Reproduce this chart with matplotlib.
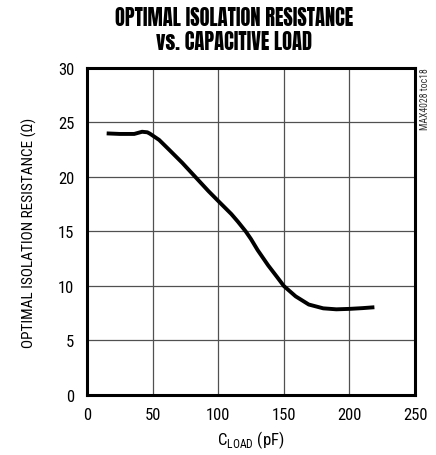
import matplotlib
matplotlib.use("Agg")
import matplotlib.pyplot as plt
from matplotlib import font_manager as fm

# values
cload_pf = [15, 25, 36, 42, 46, 48, 55, 62.6, 72.6, 82.6, 92.6, 100, 110,
            115, 121, 125, 130, 138, 145, 150, 159, 169, 180, 190, 200, 210, 219]
r_iso = [24.0, 23.95, 23.95, 24.15, 24.1, 23.97, 23.4, 22.5, 21.3, 20.0, 18.7,
         17.8, 16.6, 15.9, 15.0, 14.3, 13.3, 11.9, 10.8, 10.0, 9.05, 8.3, 7.95,
         7.86, 7.9, 7.97, 8.05]
x_ticks = [0, 50, 100, 150, 200, 250]
y_ticks = [0, 5, 10, 15, 20, 25, 30]


def pick(cands):
    have = {f.name for f in fm.fontManager.ttflist}
    for c in cands:
        if c in have:
            return c
    return "Liberation Sans"


BODY = pick(["Liberation Sans Narrow", "Roboto Condensed", "Archivo Narrow",
             "PT Sans Narrow", "Pragati Narrow", "Sofia Sans Condensed"])
TITLE = pick(["Anton", "Roboto Condensed", "Archivo Narrow"])

plt.rcParams["font.family"] = [BODY, "DejaVu Sans"]
plt.rcParams["mathtext.fontset"] = "custom"
plt.rcParams["mathtext.rm"] = BODY

fig = plt.figure(figsize=(4.36, 4.56), dpi=100)
ax = fig.add_axes([0.1995, 0.1316, 0.7525, 0.7171])

ax.plot(cload_pf, r_iso, color="black", lw=2.8, solid_capstyle="butt",
        solid_joinstyle="round")

ax.set_xlim(0, 250)
ax.set_ylim(0, 30)
ax.set_xticks(x_ticks)
ax.set_yticks(y_ticks)
ax.tick_params(length=0, labelsize=12, pad=9)
ax.grid(True, color="#505050", lw=0.9)
for s in ax.spines.values():
    s.set_linewidth(2.2)

ax.set_xlabel(r"C$_{\mathrm{LOAD}}$ (pF)", fontsize=12, labelpad=4)
ax.set_ylabel("OPTIMAL ISOLATION RESISTANCE (Ω)", fontsize=11, labelpad=15)

fig.text(0.536, 0.985, "OPTIMAL ISOLATION RESISTANCE\nvs. CAPACITIVE LOAD",
         ha="center", va="top", fontsize=14.8, family=[TITLE, "DejaVu Sans"],
         linespacing=1.12)
fig.text(0.975, 0.85, "MAX4028 toc18", rotation=90, ha="center", va="top",
         fontsize=7, color="#333333")

fig.savefig("out.png", dpi=100)
